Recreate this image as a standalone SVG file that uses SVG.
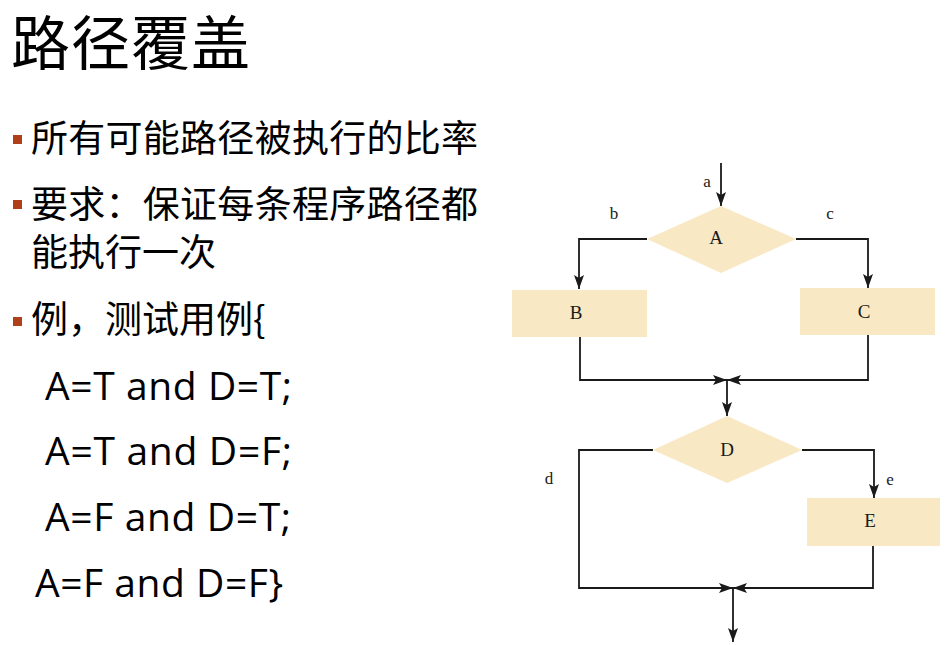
<svg xmlns="http://www.w3.org/2000/svg" width="951" height="645" viewBox="0 0 951 645">
<defs>
<marker id="ah" markerUnits="userSpaceOnUse" markerWidth="16" markerHeight="11" refX="14" refY="5" orient="auto">
<path d="M0,0 L14,5 L0,10 L3,5 z" fill="#1a1a1a"/>
</marker>
<style>
.cn{font-family:"Microsoft YaHei","Noto Sans CJK SC",sans-serif;fill:#000;}
.lat{font-family:"Open Sans","Noto Sans",sans-serif;fill:#000;font-size:39px;}
.bul{fill:#B0401A;}
.shape{fill:#F8E8C4;}
.edge{fill:none;stroke:#1a1a1a;stroke-width:1.8;marker-end:url(#ah);}
.lbl{font-family:"Liberation Serif","DejaVu Serif",serif;font-size:19px;fill:#1a1a1a;text-anchor:middle;}
.sm{font-family:"Liberation Serif","DejaVu Serif",serif;font-size:17px;fill:#1a1a1a;text-anchor:middle;}
</style>
</defs>
<rect width="951" height="645" fill="#fff"/>
<g id="title"><text class="cn" x="11" y="65" font-size="59" textLength="239">路径覆盖</text></g>
<g id="bullets">
<rect class="bul" x="13" y="135" width="9" height="9"/>
<text class="cn" x="31" y="152" font-size="37" textLength="447">所有可能路径被执行的比率</text>
<rect class="bul" x="13" y="200" width="9" height="9"/>
<text class="cn" x="31" y="218" font-size="37" textLength="447">要求：保证每条程序路径都</text>
<text class="cn" x="31" y="266" font-size="37">能执行一次</text>
<rect class="bul" x="13" y="317" width="9" height="9"/>
<text class="cn" x="31" y="333" font-size="37">例，测试用例{</text>
<text class="lat" x="45" y="400" textLength="247">A=T and D=T;</text>
<text class="lat" x="45" y="465" textLength="247">A=T and D=F;</text>
<text class="lat" x="45" y="531" textLength="246">A=F and D=T;</text>
<text class="lat" x="35" y="597" textLength="248">A=F and D=F}</text>
</g>
<g id="connectors">
<path class="edge" d="M721,163 L721,206"/>
<path class="edge" d="M647,239 L579,239 L579,289"/>
<path class="edge" d="M796,239 L868,239 L868,288"/>
<path class="edge" d="M580,337 L580,380 L727,380"/>
<path class="edge" d="M868,335 L868,380 L727,380"/>
<path class="edge" d="M727,380 L727,416"/>
<path class="edge" d="M653,450 L579,450 L579,588 L733,588"/>
<path class="edge" d="M802,450 L874,450 L874,498"/>
<path class="edge" d="M873,546 L873,588 L733,588"/>
<path class="edge" d="M733,588 L733,642"/>
</g>
<g id="labels">
<text class="sm" x="707" y="187">a</text>
<text class="sm" x="614" y="219">b</text>
<text class="sm" x="830" y="219">c</text>
<text class="sm" x="549" y="484">d</text>
<text class="sm" x="890" y="485">e</text>
</g>
<g id="nodeA"><path class="shape" d="M721,206 L796,239 L721,273 L647,239 z"/><text class="lbl" x="716" y="244">A</text></g>
<g id="nodeB"><rect class="shape" x="512" y="290" width="135" height="47"/><text class="lbl" x="576" y="319">B</text></g>
<g id="nodeC"><rect class="shape" x="800" y="288" width="135" height="47"/><text class="lbl" x="864" y="318">C</text></g>
<g id="nodeD"><path class="shape" d="M727,416 L802,450 L727,483 L653,450 z"/><text class="lbl" x="727" y="456">D</text></g>
<g id="nodeE"><rect class="shape" x="807" y="498" width="133" height="48"/><text class="lbl" x="870" y="527">E</text></g>
</svg>
